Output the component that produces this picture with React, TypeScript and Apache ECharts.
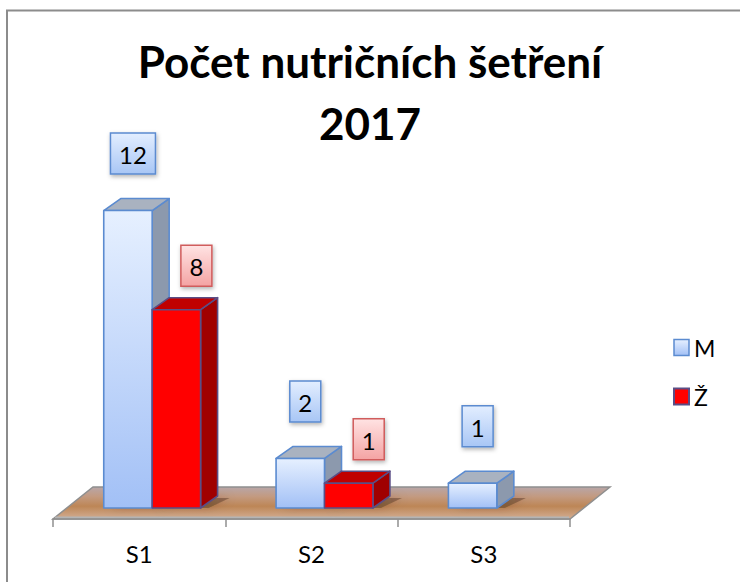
import React, { useEffect, useRef } from "react";
import * as echarts from "echarts";

const categories = ["S1", "S2", "S3"];
const seriesNames = ["M", "Ž"];
const valuesM = [12, 2, 1];
const valuesZ = [8, 1, null];
const titleText = "Počet nutričních šetření\n2017";

const FONT = "Lato, 'Open Sans', sans-serif";
const OFF_X = 13;
const OFF_Y = -11;
const DEPTH_X = 17;
const DEPTH_Y = -12;
const FLOOR_DX = 40;
const FLOOR_DY = -32;

let measureCtx: CanvasRenderingContext2D | null = null;
function textWidth(t: string, font: string): number {
  if (!measureCtx) {
    const c = document.createElement("canvas");
    measureCtx = c.getContext("2d");
  }
  if (!measureCtx) return t.length * 13;
  measureCtx.font = font;
  return measureCtx.measureText(t).width;
}

const styles = [
  {
    front: () =>
      new echarts.graphic.LinearGradient(0, 0, 0, 1, [
        { offset: 0, color: "#e6f0ff" },
        { offset: 1, color: "#a2c0f6" },
      ]),
    side: "#8c99ad",
    top: "#a9b2c0",
    stroke: "#5b8bd0",
    labelFill: () =>
      new echarts.graphic.LinearGradient(0, 0, 0, 1, [
        { offset: 0, color: "#e3eeff" },
        { offset: 1, color: "#a8c6f5" },
      ]),
    labelStroke: "#5b8bd0",
    labelDx: 5,
    labelDy: -57,
  },
  {
    front: () => "#ff0000",
    side: "#a00000",
    top: "#c00000",
    stroke: "#5a4e86",
    labelFill: () =>
      new echarts.graphic.LinearGradient(0, 0, 0, 1, [
        { offset: 0, color: "#ffe3e3" },
        { offset: 1, color: "#f4a3a3" },
      ]),
    labelStroke: "#d05c5c",
    labelDx: 20,
    labelDy: -44,
  },
];

function makeBarRender(idx: number) {
  const st = styles[idx];
  return (params: any, api: any) => {
    const cat = api.value(0);
    const v = api.value(1);
    if (v == null || isNaN(v)) return null;
    const base = api.coord([cat, 0]);
    const topP = api.coord([cat, v]);
    const band = api.size([1, 0])[0];
    const w = band * 0.281;
    const cx = base[0] + OFF_X;
    const x0 = idx === 0 ? cx - w : cx;
    const x1 = x0 + w;
    const yb = base[1] + OFF_Y;
    const yt = topP[1] + OFF_Y;
    const lineStyle = { stroke: st.stroke, lineWidth: 1.6, lineJoin: "round" };
    const label = String(v);
    const lf = "24px " + FONT;
    const bw = Math.round(Math.max(textWidth(label, lf) + 17, 31));
    const bh = 41;
    const lcx = (x0 + x1) / 2 + st.labelDx;
    const lcy = yt + st.labelDy;
    return {
      type: "group",
      children: [
        {
          type: "polygon",
          shape: {
            points: [
              [x0 + 6, yb],
              [x1 + 8, yb],
              [x1 + DEPTH_X + 12, yb + DEPTH_Y + 2],
              [x0 + DEPTH_X + 10, yb + DEPTH_Y + 2],
            ],
          },
          style: {
            fill: "rgba(70,40,20,0.4)",
            shadowBlur: 8,
            shadowColor: "rgba(70,40,20,0.55)",
          },
          silent: true,
        },
        {
          type: "polygon",
          shape: {
            points: [
              [x1, yt],
              [x1 + DEPTH_X, yt + DEPTH_Y],
              [x1 + DEPTH_X, yb + DEPTH_Y],
              [x1, yb],
            ],
          },
          style: { fill: st.side, ...lineStyle },
        },
        {
          type: "polygon",
          shape: {
            points: [
              [x0, yt],
              [x0 + DEPTH_X, yt + DEPTH_Y],
              [x1 + DEPTH_X, yt + DEPTH_Y],
              [x1, yt],
            ],
          },
          style: { fill: st.top, ...lineStyle },
        },
        {
          type: "rect",
          shape: { x: x0, y: yt, width: w, height: yb - yt },
          style: { fill: st.front(), ...lineStyle },
        },
        {
          type: "rect",
          shape: { x: lcx - bw / 2, y: lcy - bh / 2, width: bw, height: bh },
          style: {
            fill: st.labelFill(),
            stroke: st.labelStroke,
            lineWidth: 1.5,
            shadowBlur: 4,
            shadowOffsetX: 1,
            shadowOffsetY: 2,
            shadowColor: "rgba(0,0,0,0.3)",
          },
        },
        {
          type: "text",
          x: lcx,
          y: lcy + 1,
          style: {
            text: label,
            font: lf,
            fill: "#000",
            align: "center",
            verticalAlign: "middle",
          },
        },
      ],
    };
  };
}

function floorRender(params: any, api: any) {
  const cs = params.coordSys;
  const gx = cs.x;
  const gy = cs.y + cs.height;
  const gw = cs.width;
  const pts = [
    [gx, gy],
    [gx + gw, gy],
    [gx + gw + FLOOR_DX, gy + FLOOR_DY],
    [gx + FLOOR_DX, gy + FLOOR_DY],
  ];
  return {
    type: "group",
    children: [
      {
        type: "polygon",
        shape: { points: pts },
        style: {
          fill: new echarts.graphic.LinearGradient(0, 0, 0, 1, [
            { offset: 0, color: "#b8a6a8" },
            { offset: 0.3, color: "#c39a80" },
            { offset: 0.6, color: "#bd8656" },
            { offset: 1, color: "#d3ae94" },
          ]),
          stroke: "#8f8f8f",
          lineWidth: 1.5,
        },
        silent: true,
      },
      {
        type: "line",
        shape: { x1: gx + 2, y1: gy - 1.5, x2: gx + gw - 1, y2: gy - 1.5 },
        style: { stroke: "#b4b4b4", lineWidth: 2 },
        silent: true,
      },
    ],
  };
}

export default function App() {
  const ref = useRef<HTMLDivElement>(null);
  useEffect(() => {
    if (!ref.current) return;
    const chart = echarts.init(ref.current, null, { renderer: "svg" });
    const dataM = valuesM
      .map((v, i) => (v == null ? null : [i, v]))
      .filter((d) => d != null);
    const dataZ = valuesZ
      .map((v, i) => (v == null ? null : [i, v]))
      .filter((d) => d != null);
    chart.setOption({
      animation: false,
      backgroundColor: "#ffffff",
      title: {
        text: titleText,
        left: "center",
        top: 25,
        padding: 5,
        textStyle: {
          fontFamily: FONT,
          fontWeight: "bold",
          fontSize: 44,
          lineHeight: 62,
          color: "#000",
        },
      },
      legend: {
        orient: "vertical",
        left: 668,
        top: 331,
        itemWidth: 15,
        itemHeight: 16,
        itemGap: 26,
        icon: "rect",
        textStyle: { fontFamily: FONT, fontSize: 23, color: "#000" },
        data: [
          {
            name: seriesNames[0],
            itemStyle: {
              color: new echarts.graphic.LinearGradient(0, 0, 0, 1, [
                { offset: 0, color: "#e6f0ff" },
                { offset: 1, color: "#a2c0f6" },
              ]),
              borderColor: "#5b8bd0",
              borderWidth: 1.5,
            },
          },
          {
            name: seriesNames[1],
            itemStyle: {
              color: "#ff0000",
              borderColor: "#5a4e86",
              borderWidth: 2,
            },
          },
        ],
      },
      grid: { left: 53, right: 170, top: 172, bottom: 63 },
      xAxis: {
        type: "category",
        data: categories,
        z: 5,
        axisLine: { lineStyle: { color: "#8f8f8f", width: 1.5 } },
        axisTick: { show: true, length: 8, lineStyle: { color: "#8f8f8f", width: 1.5 } },
        axisLabel: { fontFamily: FONT, fontSize: 24, color: "#000", margin: 22 },
      },
      yAxis: {
        type: "value",
        min: 0,
        max: 14,
        show: false,
        splitLine: { show: false },
      },
      graphic: [
        {
          type: "rect",
          shape: { x: 7, y: 10.5, width: 800, height: 700 },
          style: { fill: "none", stroke: "#8c8c8c", lineWidth: 2 },
          silent: true,
          z: 100,
        },
      ],
      series: [
        {
          type: "custom",
          name: "floor",
          renderItem: floorRender,
          data: [[0, 0]],
          z: 1,
          silent: true,
        },
        {
          type: "custom",
          name: seriesNames[0],
          renderItem: makeBarRender(0),
          data: dataM,
          encode: { x: 0, y: 1 },
          itemStyle: { color: "#a2c0f6" },
          z: 2,
        },
        {
          type: "custom",
          name: seriesNames[1],
          renderItem: makeBarRender(1),
          data: dataZ,
          encode: { x: 0, y: 1 },
          itemStyle: { color: "#ff0000" },
          z: 3,
        },
      ],
    });
    return () => chart.dispose();
  }, []);
  return (
    <div
      style={{
        position: "fixed",
        left: 0,
        top: 0,
        width: 740,
        height: 582,
        background: "#fff",
      }}
    >
      <div ref={ref} style={{ width: 740, height: 582 }} />
    </div>
  );
}
